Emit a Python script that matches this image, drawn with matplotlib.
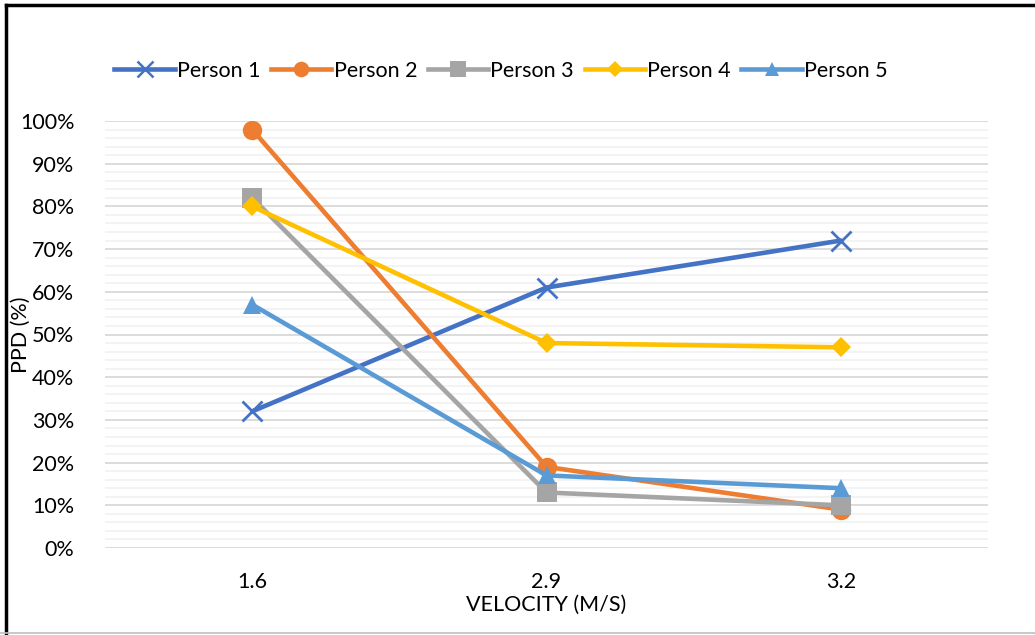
import matplotlib
matplotlib.use("Agg")
import matplotlib.pyplot as plt
from matplotlib.ticker import MultipleLocator, PercentFormatter
from matplotlib.lines import Line2D

velocities = ["1.6", "2.9", "3.2"]
series_names = ["Person 1", "Person 2", "Person 3", "Person 4", "Person 5"]
person1 = [32, 61, 72]
person2 = [98, 19, 9]
person3 = [82, 13, 10]
person4 = [80, 48, 47]
person5 = [57, 17, 14]
y_ticks = [0, 10, 20, 30, 40, 50, 60, 70, 80, 90, 100]

colors = ["#4472C4", "#ED7D31", "#A5A5A5", "#FFC000", "#5B9BD5"]
markers = ["x", "o", "s", "D", "^"]
msizes = [15, 14, 14, 10, 13]

plt.rcParams["font.family"] = ["Lato", "DejaVu Sans"]
FS = 15.5

fig = plt.figure(figsize=(10.35, 6.35), dpi=100)
W, H = 1035, 635
ax = fig.add_axes([105 / W, (H - 548) / H, (988 - 105) / W, (548 - 121) / H])

x = list(range(len(velocities)))
all_series = [person1, person2, person3, person4, person5]
for vals, name, c, m, ms in zip(all_series, series_names, colors, markers, msizes):
    kw = dict(markeredgewidth=2.0) if m == "x" else dict(markeredgewidth=0)
    ax.plot(x, vals, color=c, lw=3.3, marker=m, markersize=ms,
            markerfacecolor=c, markeredgecolor=c, label=name,
            solid_capstyle="round", zorder=3, **kw)

ax.set_xlim(-0.5, len(velocities) - 0.5)
ax.set_ylim(0, 100)
ax.set_xticks(x)
ax.set_xticklabels(velocities)
ax.set_yticks(y_ticks)
ax.yaxis.set_major_formatter(PercentFormatter(decimals=0))
ax.yaxis.set_minor_locator(MultipleLocator(2))
ax.grid(axis="y", which="major", color="#D9D9D9", lw=1.3, zorder=0)
ax.grid(axis="y", which="minor", color="#F2F2F2", lw=1.3, zorder=0)
for s in ax.spines.values():
    s.set_visible(False)
ax.tick_params(axis="both", which="both", length=0, labelsize=FS, colors="#000000")
ax.tick_params(axis="x", pad=17)
ax.tick_params(axis="y", pad=22)

ax.set_xlabel("VELOCITY (M/S)", fontsize=FS, labelpad=2)
ax.set_ylabel("PPD (%)", fontsize=FS)
ax.yaxis.set_label_coords(-0.084, 0.5)

handles = [Line2D([], [], color=c, lw=3.3, marker=m, markersize=ms * 0.8,
                  markerfacecolor=c, markeredgecolor=c,
                  markeredgewidth=(1.8 if m == "x" else 0))
           for c, m, ms in zip(colors, markers, msizes)]
fig.legend(handles, series_names, loc="center", bbox_to_anchor=(501 / W, 1 - 71 / H),
           ncol=5, frameon=False, fontsize=FS, handlelength=2.8,
           handletextpad=0.1, columnspacing=0.5)

# chart border
fig.add_artist(Line2D([6 / W, 6 / W], [0, 1 - 5 / H], transform=fig.transFigure,
                      color="black", lw=2.5))
fig.add_artist(Line2D([6 / W, 1], [1 - 5 / H, 1 - 5 / H], transform=fig.transFigure,
                      color="black", lw=2.5))
fig.add_artist(Line2D([0, 1], [2 / H, 2 / H], transform=fig.transFigure,
                      color="#BFBFBF", lw=1.2))

fig.savefig("out.png", dpi=100)
